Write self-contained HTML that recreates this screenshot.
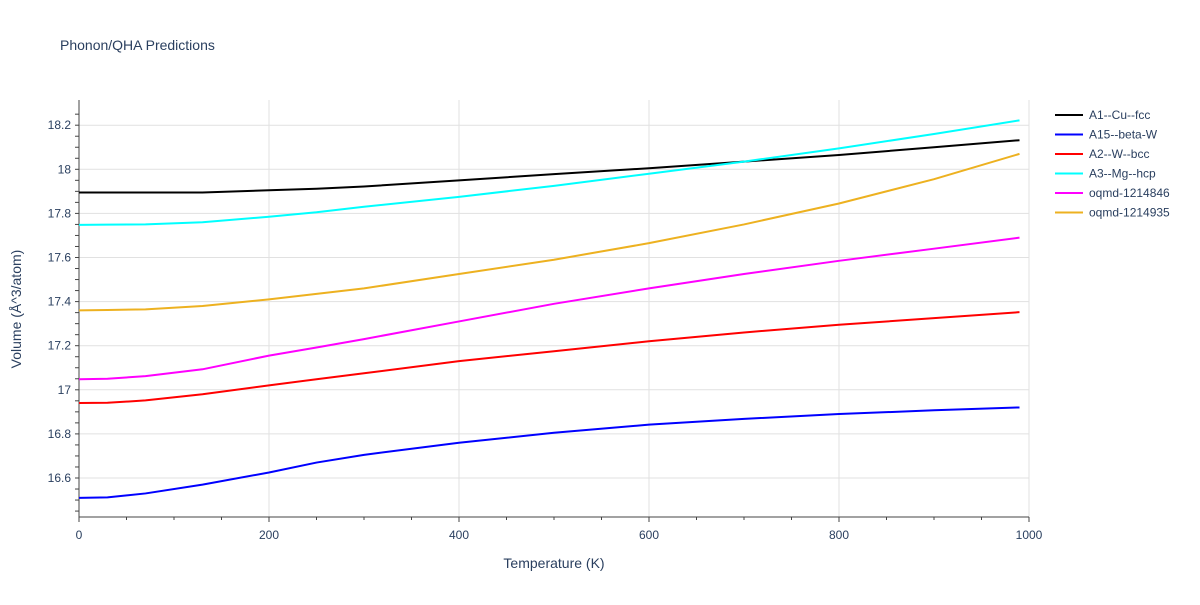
<!DOCTYPE html>
<html><head><meta charset="utf-8"><style>
body{margin:0;background:#fff;font-family:"Liberation Sans",sans-serif;}
svg text{font-family:"Liberation Sans",sans-serif;fill:#2a3f5f;}
</style></head><body>
<svg id="chart" width="1200" height="600" xmlns="http://www.w3.org/2000/svg">
<text x="60" y="50" font-size="14">Phonon/QHA Predictions</text>
<g id="grid"></g><g id="axes"></g><g id="series"></g><g id="legend"></g>
<text x="554" y="568" font-size="14" text-anchor="middle">Temperature (K)</text>
<text transform="translate(21,309) rotate(-90)" font-size="14" text-anchor="middle">Volume (Å^3/atom)</text>
</svg>
<script>
const xTicks=[0,200,400,600,800,1000];
const yTicks=[16.6,16.8,17,17.2,17.4,17.6,17.8,18,18.2];
const yTickLabels=["16.6","16.8","17","17.2","17.4","17.6","17.8","18","18.2"];
const seriesNames=["A1--Cu--fcc","A15--beta-W","A2--W--bcc","A3--Mg--hcp","oqmd-1214846","oqmd-1214935"];
const seriesColors=["#000000","#0000ff","#ff0000","#00ffff","#ff00ff","#edb120"];
const temps=[0,30,70,130,200,250,300,400,500,600,700,800,900,990];
const cuFcc=[17.895,17.895,17.895,17.895,17.905,17.912,17.922,17.95,17.978,18.005,18.035,18.065,18.1,18.132];
const betaW=[16.51,16.512,16.53,16.57,16.625,16.67,16.705,16.76,16.805,16.842,16.868,16.89,16.907,16.92];
const wBcc=[16.94,16.941,16.952,16.98,17.02,17.048,17.075,17.13,17.175,17.22,17.26,17.295,17.325,17.352];
const mgHcp=[17.748,17.749,17.75,17.76,17.785,17.805,17.83,17.875,17.925,17.98,18.035,18.095,18.16,18.222];
const oq846=[17.048,17.05,17.062,17.093,17.155,17.192,17.23,17.31,17.39,17.46,17.525,17.585,17.64,17.69];
const oq935=[17.36,17.362,17.365,17.38,17.41,17.435,17.46,17.525,17.59,17.665,17.75,17.845,17.955,18.07];
const allSeries=[cuFcc,betaW,wBcc,mgHcp,oq846,oq935];
const NS="http://www.w3.org/2000/svg";
const X0=79,X1=1029,YT=100,YB=517;
const xs=v=>X0+(v/1000)*(X1-X0);
const ys=v=>478-(v-16.6)/0.2*44.1;
function mk(tag,attrs,parent){const e=document.createElementNS(NS,tag);for(const k in attrs)e.setAttribute(k,attrs[k]);document.getElementById(parent).appendChild(e);return e;}
xTicks.forEach(t=>{
 const g=mk('line',{x1:xs(t),x2:xs(t),y1:YT,y2:YB,stroke:t===0?'#444':'#e1e1e1','stroke-width':1},'grid');
 
 
 const l=mk('text',{x:xs(t),y:YB+22,'font-size':12,'text-anchor':'middle'},'axes');l.textContent=t;
 
 
});
for(let t=0;t<=1000;t+=50){const m=mk('line',{x1:xs(t),x2:xs(t),y1:YB,y2:YB+(t%200===0?5:3),stroke:'#444'},'axes');
 
 }
yTicks.forEach((t,i)=>{
 const g=mk('line',{x1:X0,x2:X1,y1:ys(t),y2:ys(t),stroke:'#e1e1e1'},'grid');
 
 
 const l=mk('text',{x:X0-8,y:ys(t)+4,'font-size':12,'text-anchor':'end'},'axes');l.textContent=yTickLabels[i];
 
 
});
for(let v=16.45;v<=18.3;v+=0.05){const y=ys(v);if(y<YT||y>YB)continue;const m=mk('line',{x1:X0-4,x2:X0,y1:y,y2:y,stroke:'#444'},'axes');
 
 }
const xa=mk('line',{x1:X0,x2:X1,y1:YB,y2:YB,stroke:'#444'},'axes');


const ya=mk('line',{x1:X0,x2:X0,y1:YT,y2:YB,stroke:'#444'},'axes');


allSeries.forEach((s,i)=>{
 const p=mk('polyline',{points:s.map((v,j)=>xs(temps[j])+','+ys(v)).join(' '),fill:'none',stroke:seriesColors[i],'stroke-width':2},'series');
 
 
 const y=115+i*19.5;
 const ll=mk('line',{x1:1055,x2:1083,y1:y,y2:y,stroke:seriesColors[i],'stroke-width':2},'legend');
 
 
 const lt=mk('text',{x:1089,y:y+4,'font-size':12},'legend');lt.textContent=seriesNames[i];
 
 
});
</script>
</body></html>
